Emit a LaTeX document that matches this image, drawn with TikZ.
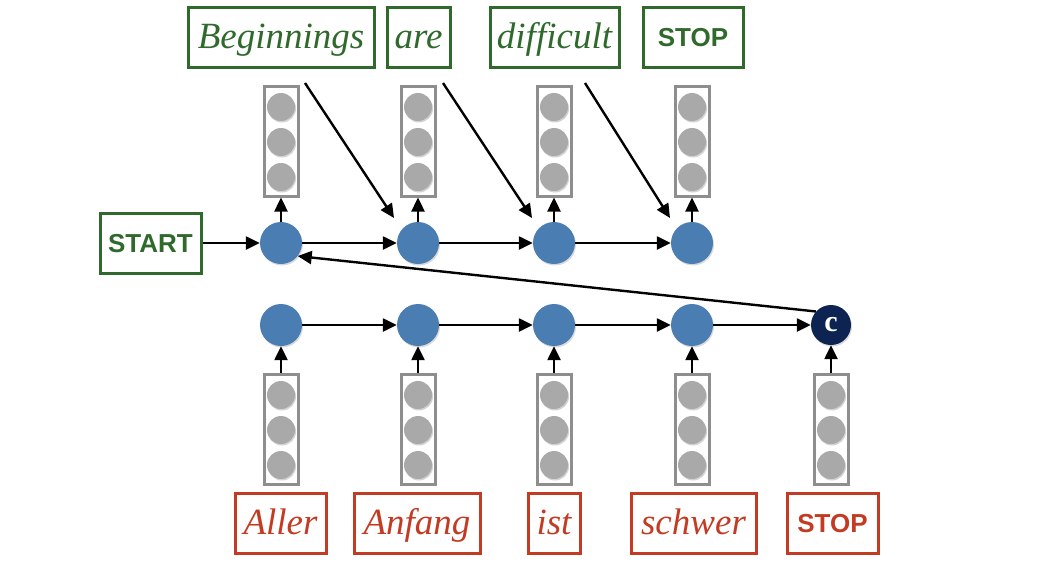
\documentclass[tikz,border=0pt]{standalone}
\usepackage{fontspec}
\setmainfont{Liberation Serif}
\setsansfont{Liberation Sans}
\usetikzlibrary{arrows.meta,shadows}
\definecolor{wgreen}{HTML}{2F6A2C}
\definecolor{wred}{HTML}{C23B22}
\definecolor{hblue}{HTML}{4A7DB2}
\definecolor{cnavy}{HTML}{0D2452}
\definecolor{vgray}{HTML}{A9A9A9}
\definecolor{bgray}{HTML}{8E8E8E}
\begin{document}
\begin{tikzpicture}[x=1pt,y=-1pt,
  wordg/.style={draw=wgreen,line width=3pt,text=wgreen,font=\itshape\fontsize{37}{42}\selectfont,minimum height=60pt,inner sep=0pt,text height=28pt,text depth=6pt},
  wordr/.style={draw=wred,line width=3pt,text=wred,font=\itshape\fontsize{37}{42}\selectfont,minimum height=60pt,inner sep=0pt,text height=28pt,text depth=6pt},
  tokg/.style={wordg,font=\sffamily\bfseries\fontsize{26}{30}\selectfont,text height=19pt,text depth=0pt},
  tokr/.style={wordr,font=\sffamily\bfseries\fontsize{26}{30}\selectfont,text height=19pt,text depth=0pt},
  vecbox/.style={draw=bgray,line width=3pt,minimum width=34pt,minimum height=110pt,inner sep=0pt},
  vball/.style={circle,fill=vgray,minimum size=28pt,inner sep=0pt,drop shadow={opacity=0.35,shadow xshift=1pt,shadow yshift=-1.5pt}},
  hball/.style={circle,fill=hblue,minimum size=42pt,inner sep=0pt,drop shadow={opacity=0.3,shadow xshift=1pt,shadow yshift=-1.5pt}},
  cball/.style={circle,fill=cnavy,minimum size=40pt,inner sep=0pt,text=white,font=\bfseries\fontsize{30}{34}\selectfont,drop shadow={opacity=0.3,shadow xshift=1pt,shadow yshift=-1.5pt}},
  arr/.style={-{Triangle[length=14pt,width=13pt]},line width=2.4pt,black}
]
\useasboundingbox (0,0) rectangle (1042,560);

% top words
\node[wordg,minimum width=186pt] (wB) at (281,37) {Beginnings};
\node[wordg,minimum width=63pt] (wA) at (418.5,37) {are};
\node[wordg,minimum width=129pt] (wD) at (554.5,37) {difficult};
\node[tokg,minimum width=100pt] (wS) at (693,37) {STOP};
\node[tokg,minimum width=101pt] (start) at (150.5,243) {START};

% bottom words
\node[wordr,minimum width=91pt] (gA) at (280.5,523) {Aller};
\node[wordr,minimum width=126pt] (gB) at (417,523) {Anfang};
\node[wordr,minimum width=52pt] (gC) at (554,523) {ist};
\node[wordr,minimum width=125pt] (gD) at (693.5,523) {schwer};
\node[tokr,minimum width=91pt] (gS) at (832.5,523) {STOP};

% top vectors
\foreach \n/\x in {1/281,2/418,3/554,4/692}{
  \node[vecbox] (tv\n) at (\x,141) {};
  \node[vball] (tv\n a) at (\x,107) {};
  \node[vball] (tv\n b) at (\x,142) {};
  \node[vball] (tv\n c) at (\x,177) {};
  \node[hball] (h\n) at (\x,243) {};
}
% bottom vectors
\foreach \n/\x in {1/281,2/418,3/554,4/692,5/831}{
  \node[vecbox] (bv\n) at (\x,429) {};
  \node[vball] (bv\n a) at (\x,395) {};
  \node[vball] (bv\n b) at (\x,430) {};
  \node[vball] (bv\n c) at (\x,465) {};
}
\foreach \n/\x in {1/281,2/418,3/554,4/692}{
  \node[hball] (e\n) at (\x,325) {};
}
\node[cball] (c) at (831,325) {c};

% arrows up
\foreach \n in {1,2,3,4}{
  \draw[arr] (h\n) -- (tv\n);
  \draw[arr] (bv\n) -- (e\n);
}
\draw[arr] (bv5) -- (c);

% horizontal
\draw[arr] (start) -- (h1);
\draw[arr] (h1) -- (h2);
\draw[arr] (h2) -- (h3);
\draw[arr] (h3) -- (h4);
\draw[arr] (e1) -- (e2);
\draw[arr] (e2) -- (e3);
\draw[arr] (e3) -- (e4);
\draw[arr] (e4) -- (c);
\draw[arr] (c.138) -- (h1.-38);

% diagonal feed
\coordinate (d1s) at (305,83); \coordinate (d1e) at (394,218);
\coordinate (d2s) at (443,83); \coordinate (d2e) at (532,218);
\coordinate (d3s) at (585,83); \coordinate (d3e) at (670,218);
\draw[arr] (d1s) -- (d1e);
\draw[arr] (d2s) -- (d2e);
\draw[arr] (d3s) -- (d3e);
\end{tikzpicture}
\end{document}
